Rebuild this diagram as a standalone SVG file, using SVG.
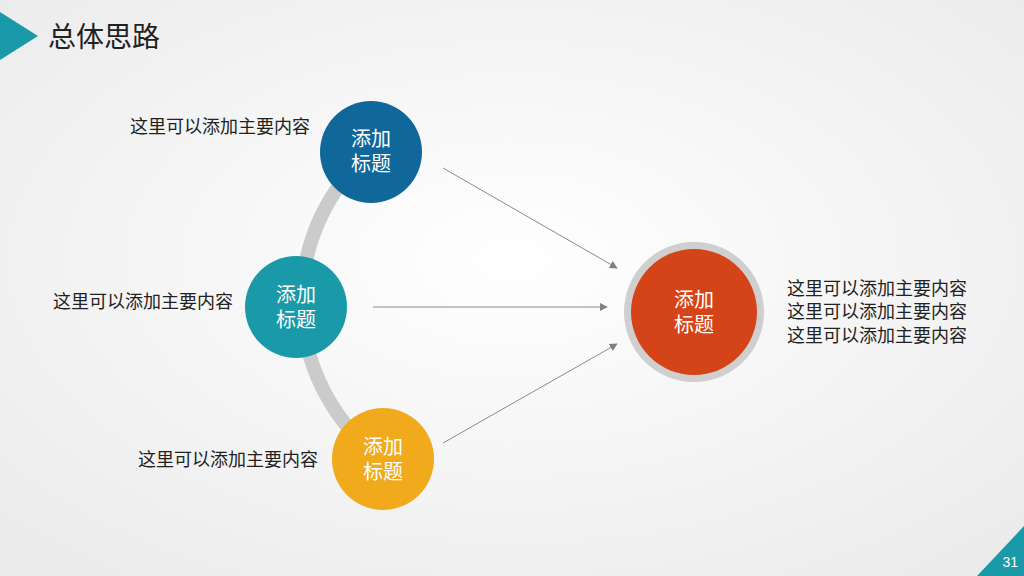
<svg xmlns="http://www.w3.org/2000/svg" width="1024" height="576" viewBox="0 0 1024 576">
<defs>
<radialGradient id="bg" cx="0.5" cy="0.45" r="0.7"><stop offset="0" stop-color="#ffffff"/><stop offset="1" stop-color="#ebebeb"/></radialGradient>
<marker id="ah" viewBox="0 0 10 10" refX="9" refY="5" markerWidth="8" markerHeight="8" orient="auto" markerUnits="userSpaceOnUse"><path d="M0,0L10,5L0,10z" fill="#808080"/></marker>
<style>
text{font-family:"Liberation Sans","Noto Sans CJK SC",sans-serif}
.lab{font-size:18px;fill:#222}
.ct{font-size:20px;fill:#fff;text-anchor:middle}
.con line{stroke:#8a8a8a;stroke-width:1;marker-end:url(#ah)}
</style>
</defs>
<rect width="1024" height="576" fill="url(#bg)"/>
<polygon points="0,12 38,36 0,60" fill="#1a9aa8"/>
<text x="48" y="47" font-size="28" fill="#222">总体思路</text>
<polygon points="1024,526 977,576 1024,576" fill="#1a9aa8"/>
<text x="1018" y="567" font-size="14" fill="#fff" text-anchor="end">31</text>
<path d="M370,152 A197,197 0 0 0 383,460" fill="none" stroke="#cbcbcb" stroke-width="14"/>
<g class="con">
<line x1="443" y1="168" x2="617" y2="268"/>
<line x1="373" y1="307" x2="607" y2="307"/>
<line x1="443" y1="443" x2="617" y2="344"/>
</g>
<g id="n1"><circle cx="371" cy="152" r="51" fill="#10679a"/><text class="ct" x="371" y="146">添加</text><text class="ct" x="371" y="171">标题</text><text class="lab" x="310" y="133" text-anchor="end">这里可以添加主要内容</text></g>
<g id="n2"><circle cx="296" cy="307" r="51" fill="#1a9aa8"/><text class="ct" x="296" y="302">添加</text><text class="ct" x="296" y="327">标题</text><text class="lab" x="233" y="308" text-anchor="end">这里可以添加主要内容</text></g>
<g id="n3"><circle cx="383" cy="459" r="51" fill="#f0aa1c"/><text class="ct" x="383" y="454">添加</text><text class="ct" x="383" y="479">标题</text><text class="lab" x="318" y="466" text-anchor="end">这里可以添加主要内容</text></g>
<g id="n4"><circle cx="694" cy="312" r="70" fill="#cfcfcf"/><circle cx="694" cy="312" r="63" fill="#d44418"/><text class="ct" x="694" y="307">添加</text><text class="ct" x="694" y="332">标题</text>
<text class="lab" x="787" y="295">这里可以添加主要内容</text><text class="lab" x="787" y="318">这里可以添加主要内容</text><text class="lab" x="787" y="342">这里可以添加主要内容</text></g>
</svg>
